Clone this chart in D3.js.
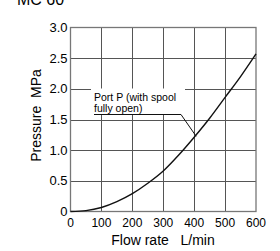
<!DOCTYPE html>
<html>
<head>
<meta charset="utf-8">
<script src="https://cdn.jsdelivr.net/npm/d3@7"></script>
<style>
  body { margin: 0; background: #fff; }
  svg { display: block; font-family: "Liberation Sans", Arial, sans-serif; }
  .grid line { stroke: #555; stroke-width: 1; shape-rendering: crispEdges; }
  .tick-x { font-family: "Liberation Sans Narrow", "Liberation Sans", Arial, sans-serif; }
</style>
</head>
<body>
<div id="chart"></div>
<script>
/* DATA */
const flowRate = [0, 50, 100, 150, 200, 250, 300, 350, 400, 450, 500, 550, 600];
const pressure = [0, 0.015, 0.065, 0.16, 0.29, 0.46, 0.66, 0.92, 1.21, 1.52, 1.86, 2.2, 2.57];
const xTicks = [0, 100, 200, 300, 400, 500, 600];
const yTicks = [0, 0.5, 1.0, 1.5, 2.0, 2.5, 3.0];
const yTickLabels = ["0", "0.5", "1.0", "1.5", "2.0", "2.5", "3.0"];
const noteLines = ["Port P (with spool", "fully open)"];
const noteIndex = 8; // point on the curve the leader line points to (400 L/min)

const width = 280, height = 251;
const margin = { top: 27.5, right: 24, bottom: 39.5, left: 70.5 };

const svg = d3.select("#chart").append("svg")
  .attr("width", width)
  .attr("height", height);

const x = d3.scaleLinear().domain([0, 600]).range([margin.left, width - margin.right]);
const y = d3.scaleLinear().domain([0, 3]).range([height - margin.bottom, margin.top]);

// cut-off title at top
svg.append("text")
  .attr("x", 17)
  .attr("y", 5)
  .attr("font-size", 16)
  .text("MC 60");

// grid
const grid = svg.append("g").attr("class", "grid");
grid.selectAll("line.v")
  .data(xTicks.slice(1, -1))
  .join("line")
  .attr("class", "v")
  .attr("x1", d => Math.round(x(d)) + 0.5).attr("x2", d => Math.round(x(d)) + 0.5)
  .attr("y1", y(0)).attr("y2", y(3));
grid.selectAll("line.h")
  .data(yTicks.slice(1, -1))
  .join("line")
  .attr("class", "h")
  .attr("x1", x(0)).attr("x2", x(600))
  .attr("y1", d => Math.round(y(d)) + 0.5).attr("y2", d => Math.round(y(d)) + 0.5);

// frame
svg.append("rect")
  .attr("x", x(0)).attr("y", y(3))
  .attr("width", x(600) - x(0)).attr("height", y(0) - y(3))
  .attr("fill", "none")
  .attr("stroke", "#777")
  .attr("stroke-width", 1.3);

// y tick labels
svg.append("g")
  .selectAll("text")
  .data(yTicks)
  .join("text")
  .attr("x", x(0) - 3)
  .attr("y", d => y(d) + 4.5)
  .attr("text-anchor", "end")
  .attr("font-size", 13)
  .text((d, i) => yTickLabels[i]);

// x tick labels
svg.append("g")
  .selectAll("text")
  .data(xTicks)
  .join("text")
  .attr("class", "tick-x")
  .attr("x", d => x(d))
  .attr("y", y(0) + 15)
  .attr("text-anchor", "middle")
  .attr("font-size", 12)
  .text(d => d);

// axis titles
svg.append("text")
  .attr("x", 163)
  .attr("y", 245)
  .attr("text-anchor", "middle")
  .attr("font-size", 14)
  .attr("xml:space", "preserve")
  .text("Flow rate   L/min");

svg.append("text")
  .attr("transform", `translate(41,${(y(0) + y(3)) / 2 - 4}) rotate(-90)`)
  .attr("text-anchor", "middle")
  .attr("font-size", 14)
  .attr("xml:space", "preserve")
  .text("Pressure  MPa");

// annotation box (white background covering grid)
svg.append("rect")
  .attr("x", 91).attr("y", 88.5)
  .attr("width", 94).attr("height", 25.5)
  .attr("fill", "#fff");

// curve
const line = d3.line()
  .x((d, i) => x(flowRate[i]))
  .y(d => y(d))
  .curve(d3.curveMonotoneX);

svg.append("path")
  .datum(pressure)
  .attr("fill", "none")
  .attr("stroke", "#111")
  .attr("stroke-width", 1.4)
  .attr("d", line);

// annotation text
svg.append("g")
  .selectAll("text")
  .data(noteLines)
  .join("text")
  .attr("x", 94)
  .attr("y", (d, i) => 101 + i * 10.5)
  .attr("font-size", 10.5)
  .text(d => d);

// leader line
svg.append("path")
  .attr("fill", "none")
  .attr("stroke", "#111")
  .attr("stroke-width", 1)
  .attr("d", `M94,114.5 L181,114.5 L${x(flowRate[noteIndex]) + 2},${y(pressure[noteIndex]) - 1}`);
</script>
</body>
</html>
